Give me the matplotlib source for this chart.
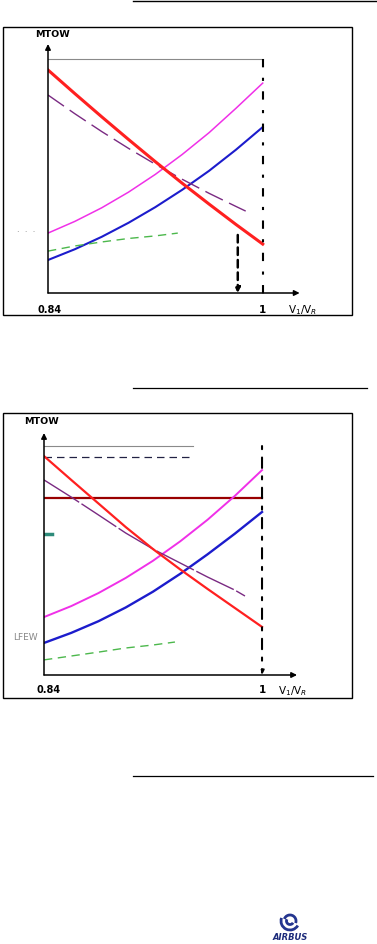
import matplotlib
matplotlib.use("Agg")
import matplotlib.pyplot as plt
from matplotlib.patches import Rectangle, Arc

# --------------------------------------------------------------------------
# Data (x = V1/VR, y = MTOW in relative units)
# --------------------------------------------------------------------------

X_GRID = [0.84, 0.86, 0.88, 0.90, 0.92, 0.94, 0.96, 0.98, 1.00]

# top panel
P1_RED = [95.3, 85.2, 75.3, 65.6, 56.1, 46.9, 38.0, 29.3, 20.9]
P1_MAGENTA = [25.6, 30.6, 36.4, 43.1, 50.7, 59.2, 68.5, 78.9, 89.7]
P1_BLUE = [14.1, 18.7, 24.0, 30.0, 36.7, 44.1, 52.2, 61.2, 70.9]
P1_PURPLE_X = [0.84, 0.86, 0.88, 0.90, 0.92, 0.94, 0.96, 0.98, 0.9873]
P1_PURPLE = [84.6, 76.6, 69.0, 61.8, 55.0, 48.6, 42.6, 37.0, 35.0]
P1_GREEN_X = [0.84, 0.86, 0.88, 0.90, 0.92, 0.9367]
P1_GREEN = [17.9, 20.1, 21.8, 23.3, 24.4, 25.6]
P1_TOP = 100.0
P1_V1_OPT = 0.9814
P1_V1_OPT_FROM = 24.8

# bottom panel
P2_RED = [95.6, 85.2, 74.9, 64.6, 55.0, 46.1, 37.6, 29.3, 21.0]
P2_MAGENTA = [25.3, 30.1, 35.8, 42.4, 49.9, 58.4, 67.8, 78.2, 89.5]
P2_BLUE = [14.0, 18.4, 23.5, 29.5, 36.4, 44.2, 52.7, 61.7, 71.2]
P2_PURPLE_X = [0.84, 0.86, 0.88, 0.90, 0.92, 0.94, 0.96, 0.98, 0.9875]
P2_PURPLE = [85.2, 77.7, 69.9, 62.0, 55.0, 48.9, 42.8, 37.1, 34.5]
P2_GREEN_X = [0.84, 0.86, 0.88, 0.90, 0.92, 0.9361]
P2_GREEN = [6.6, 8.3, 10.0, 11.8, 13.1, 14.4]
P2_DARKRED = 77.3
P2_TOP = 100.0
P2_TOP_END = 0.9494
P2_DASHED = 95.2
P2_DASHED_END = 0.9472
P2_TEAL = 61.6

W, H = 377, 944
RED = "#ff2020"
MAGENTA = "#f030e8"
BLUE = "#1c1ccc"
PURPLE = "#7a2a82"
GREEN = "#4cb84c"


def px_axes(fig, left, right, top, bottom):
    return fig.add_axes([left / W, 1 - bottom / H, (right - left) / W, (bottom - top) / H])


def draw_axes_frame(ax, x_end):
    ax.set_axis_off()
    ax.annotate("", xy=(0, 1), xycoords="axes fraction", xytext=(0, 0),
                arrowprops=dict(arrowstyle="-|>", lw=1.1, color="black", mutation_scale=8,
                                shrinkA=0, shrinkB=0))
    ax.annotate("", xy=(x_end, 0), xytext=(0.84, 0),
                arrowprops=dict(arrowstyle="-|>", lw=1.1, color="black", mutation_scale=8,
                                shrinkA=0, shrinkB=0))


fig = plt.figure(figsize=(W / 100, H / 100), dpi=100)

# background layer: frames, rules, logo
bg = fig.add_axes([0, 0, 1, 1])
bg.set_xlim(0, W)
bg.set_ylim(H, 0)
bg.set_axis_off()
bg.plot([133, 377], [0.8, 0.8], color="black", lw=1.0)
bg.plot([133, 367], [388, 388], color="black", lw=0.9)
bg.plot([133, 373], [776, 776], color="black", lw=0.9)
bg.add_patch(Rectangle((3, 27), 349, 288, fill=False, lw=1.0, ec="black"))
bg.add_patch(Rectangle((3, 413), 349, 285, fill=False, lw=1.0, ec="black"))
for r, t1, t2 in [(9, 30, 200), (6, 200, 20), (3.5, 30, 210)]:
    bg.add_patch(Arc((290, 921), 2 * r, 2 * r, theta1=t1, theta2=t2, lw=2.0, color="#24358f"))
bg.text(290, 938, "AIRBUS", ha="center", va="center", fontsize=6, fontweight="bold",
        fontstyle="italic", color="#1b2a7a")

# ---- top panel ----
ax1 = px_axes(fig, 48, 303, 44, 293)
ax1.set_xlim(0.84, 1.03)
ax1.set_ylim(0, 106.4)
draw_axes_frame(ax1, 1.0275)
ax1.plot([0.84, 1.0], [P1_TOP, P1_TOP], color="#8a8a8a", lw=0.8)
ax1.plot(X_GRID, P1_MAGENTA, color=MAGENTA, lw=1.1)
ax1.plot(X_GRID, P1_BLUE, color=BLUE, lw=1.5)
ax1.plot(P1_PURPLE_X, P1_PURPLE, color=PURPLE, lw=1.0, dashes=(14, 5))
ax1.plot(P1_GREEN_X, P1_GREEN, color=GREEN, lw=1.0, dashes=(6, 4))
ax1.plot(X_GRID, P1_RED, color=RED, lw=2.2)
ax1.plot([1.0, 1.0], [P1_TOP, -3], color="black", lw=1.5, dashes=(4, 5, 1.5, 5), clip_on=False)
ax1.annotate("", xy=(P1_V1_OPT, 0), xytext=(P1_V1_OPT, P1_V1_OPT_FROM),
             arrowprops=dict(arrowstyle="-|>", lw=1.8, ls=(0, (3, 2)), color="black",
                             mutation_scale=7, shrinkA=0, shrinkB=0))
ax1.text(0.016, 1.02, "MTOW", transform=ax1.transAxes, ha="center", va="bottom",
         fontsize=6.8, fontweight="bold")
ax1.text(0.8415, -5, "0.84", ha="center", va="top", fontsize=7, fontweight="bold", clip_on=False)
ax1.text(1.0, -5, "1", ha="center", va="top", fontsize=7.5, fontweight="bold", clip_on=False)
ax1.text(1.0186, -4.5, "V$_1$/V$_R$", ha="left", va="top", fontsize=7.5, clip_on=False)
ax1.text(-0.086, 26, "·  ·  ·", transform=ax1.get_yaxis_transform(), ha="center", va="center",
         fontsize=6, color="#777777")

# ---- bottom panel ----
ax2 = px_axes(fig, 44, 302.9, 433, 675)
ax2.set_xlim(0.84, 1.03)
ax2.set_ylim(0, 105.7)
draw_axes_frame(ax2, 1.0257)
ax2.plot([0.84, P2_TOP_END], [P2_TOP, P2_TOP], color="#8a8a8a", lw=0.8)
ax2.plot([0.84, P2_DASHED_END], [P2_DASHED, P2_DASHED], color="#222244", lw=0.9, dashes=(6, 4))
ax2.plot([0.84, 1.0], [P2_DARKRED, P2_DARKRED], color="#990000", lw=1.6)
ax2.plot(X_GRID, P2_MAGENTA, color=MAGENTA, lw=1.4)
ax2.plot(X_GRID, P2_BLUE, color=BLUE, lw=1.7)
ax2.plot(P2_PURPLE_X, P2_PURPLE, color=PURPLE, lw=1.0, dashes=(30, 2))
ax2.plot(P2_GREEN_X, P2_GREEN, color=GREEN, lw=1.0, dashes=(6, 4))
ax2.plot(X_GRID, P2_RED, color=RED, lw=1.6)
ax2.plot([0.84, 0.8459], [P2_TEAL, P2_TEAL], color="#2e8b7a", lw=2.5)
ax2.annotate("", xy=(1.0, 0), xytext=(1.0, P2_TOP),
             arrowprops=dict(arrowstyle="-|>", lw=1.5, ls=(0, (1.5, 4, 5, 4)), color="black",
                             mutation_scale=6, shrinkA=0, shrinkB=0))
ax2.text(-0.008, 1.03, "MTOW", transform=ax2.transAxes, ha="center", va="bottom",
         fontsize=6.8, fontweight="bold")
ax2.text(0.843, -4.5, "0.84", ha="center", va="top", fontsize=7, fontweight="bold", clip_on=False)
ax2.text(1.0, -4.5, "1", ha="center", va="top", fontsize=7.5, fontweight="bold", clip_on=False)
ax2.text(1.0117, -4, "V$_1$/V$_R$", ha="left", va="top", fontsize=7.5, clip_on=False)
ax2.text(-0.073, 16.5, "LFEW", transform=ax2.get_yaxis_transform(), ha="center", va="center",
         fontsize=6.5, color="#888888")

fig.savefig("out.png", dpi=100)
